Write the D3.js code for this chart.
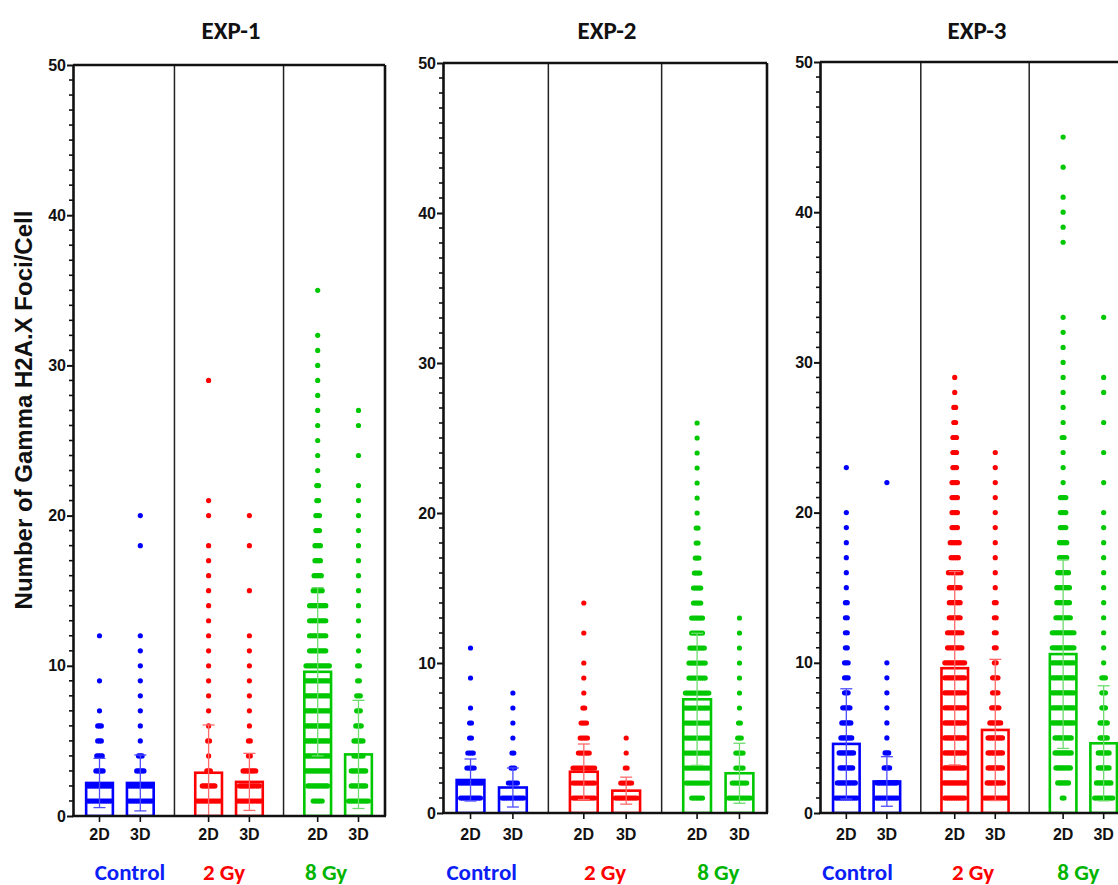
<!DOCTYPE html>
<html><head><meta charset="utf-8">
<script src="https://cdn.jsdelivr.net/npm/d3@7"></script>
<style>body{margin:0;background:#fff}</style>
</head><body>
<svg id="chart" width="1118" height="885"></svg>
<script>
// ---------------- DATA ----------------
const experiments = ["EXP-1", "EXP-2", "EXP-3"];
const treatments = ["Control", "2 Gy", "8 Gy"];
const cultures = ["2D", "3D"];
const yTickValues = [0, 10, 20, 30, 40, 50];
const yLabel = "Number of Gamma H2A.X Foci/Cell";

// column order: Control-2D, Control-3D, 2Gy-2D, 2Gy-3D, 8Gy-2D, 8Gy-3D
const exp1Means = [2.2, 2.2, 2.88, 2.27, 9.6, 4.1];
const exp1SD    = [1.64, 1.86, 3.18, 1.9, 5.6, 3.6];
const exp2Means = [2.2, 1.7, 2.75, 1.49, 7.58, 2.65];
const exp2SD    = [1.4, 1.3, 1.85, 0.9, 4.4, 2.0];
const exp3Means = [4.6, 2.1, 9.64, 5.53, 10.58, 4.64];
const exp3SD    = [3.67, 1.65, 6.44, 4.7, 6.28, 3.83];

// individual cells: [foci value, number of cells]
const exp1Control2D = [[1,14],[2,14],[3,5],[4,4],[5,3],[6,3],[7,1],[9,1],[12,1]];
const exp1Control3D = [[1,14],[2,14],[3,5],[4,3],[5,1],[6,1],[7,1],[8,1],[9,1],[10,1],[11,1],[12,1],[18,1],[20,1]];
const exp1Gy2_2D = [[1,14],[2,8],[3,3],[4,1],[5,2],[6,1],[7,1],[8,1],[9,1],[10,1],[11,1],[12,1],[13,1],[14,1],[15,1],[16,1],[17,1],[18,1],[20,1],[21,1],[29,1]];
const exp1Gy2_3D = [[1,14],[2,12],[3,8],[4,2],[5,2],[6,1],[7,1],[8,1],[9,1],[10,1],[11,1],[12,1],[15,1],[18,1],[20,1]];
const exp1Gy8_2D = [[1,6],[2,12],[3,14],[4,14],[5,14],[6,14],[7,14],[8,14],[9,14],[10,14],[11,10],[12,10],[13,10],[14,10],[15,6],[16,5],[17,4],[18,4],[19,3],[20,3],[21,2],[22,2],[23,1],[24,1],[25,1],[26,1],[27,1],[28,1],[29,1],[30,1],[31,1],[32,1],[35,1]];
const exp1Gy8_3D = [[1,12],[2,9],[3,9],[4,6],[5,6],[6,4],[7,3],[8,3],[9,2],[10,2],[11,1],[12,1],[13,1],[14,1],[15,1],[16,1],[17,1],[18,1],[19,1],[20,1],[21,1],[22,1],[24,1],[26,1],[27,1]];

const exp2Control2D = [[1,12],[2,14],[3,5],[4,4],[5,2],[6,2],[7,1],[9,1],[11,1]];
const exp2Control3D = [[1,13],[2,6],[3,3],[4,2],[5,1],[6,1],[7,1],[8,1]];
const exp2Gy2_2D = [[1,13],[2,13],[3,13],[4,7],[5,5],[6,4],[7,2],[8,1],[9,1],[10,1],[12,1],[14,1]];
const exp2Gy2_3D = [[1,13],[2,7],[3,2],[4,1],[5,1]];
const exp2Gy8_2D = [[1,7],[2,13],[3,14],[4,14],[5,14],[6,14],[7,14],[8,14],[9,10],[10,10],[11,9],[12,7],[13,7],[14,5],[15,5],[16,4],[17,3],[18,2],[19,2],[20,1],[21,1],[22,1],[23,1],[24,1],[25,1],[26,1]];
const exp2Gy8_3D = [[1,13],[2,9],[3,5],[4,5],[5,3],[6,2],[7,1],[8,1],[9,1],[10,1],[11,1],[12,1],[13,1]];

const exp3Control2D = [[1,13],[2,11],[3,8],[4,9],[5,7],[6,6],[7,5],[8,3],[9,3],[10,3],[11,2],[12,2],[13,2],[14,2],[15,1],[16,1],[17,1],[18,1],[19,1],[20,1],[23,1]];
const exp3Control3D = [[1,13],[2,12],[3,4],[4,3],[5,1],[6,1],[7,1],[8,1],[9,1],[10,1],[22,1]];
const exp3Gy2_2D = [[1,12],[2,13],[3,12],[4,12],[5,12],[6,12],[7,12],[8,12],[9,12],[10,12],[11,9],[12,9],[13,7],[14,7],[15,7],[16,8],[17,5],[18,6],[19,4],[20,4],[21,4],[22,4],[23,3],[24,3],[25,3],[26,2],[27,2],[28,1],[29,1]];
const exp3Gy2_3D = [[1,13],[2,10],[3,9],[4,9],[5,9],[6,7],[7,5],[8,4],[9,4],[10,2],[11,2],[12,2],[13,2],[14,2],[15,1],[16,1],[17,1],[18,1],[19,1],[20,1],[21,1],[22,1],[23,1],[24,1]];
const exp3Gy8_2D = [[1,2],[2,7],[3,9],[4,10],[5,10],[6,13],[7,13],[8,13],[9,13],[10,13],[11,13],[12,13],[13,9],[14,8],[15,8],[16,7],[17,5],[18,5],[19,4],[20,4],[21,4],[22,1],[23,1],[24,1],[25,2],[26,1],[27,1],[28,1],[29,1],[30,1],[31,1],[32,1],[33,1],[38,1],[39,1],[40,1],[41,1],[43,1],[45,1]];
const exp3Gy8_3D = [[1,11],[2,9],[3,7],[4,7],[5,5],[6,5],[7,3],[8,3],[9,3],[10,1],[11,1],[12,1],[13,1],[14,1],[15,1],[16,1],[17,1],[18,1],[19,1],[20,1],[22,1],[24,1],[26,1],[28,1],[29,1],[33,1]];

// ---------------- STYLE / LAYOUT ----------------
const treatmentColors = ["#0000ff", "#ff0000", "#00c800"];
const whiskerColors = ["#4d4dff", "#ff6a6a", "#6ddc6d"];
const labelColors = ["#0a1ef5", "#ff0000", "#00b400"];

const panels = [
  {x: 73, w: 312, top: 65, bottom: 816, labelShift: [10, -5, -12]},
  {x: 443, w: 324, top: 63, bottom: 813, labelShift: [-10, 0, 0]},
  {x: 820, w: 310, top: 62, bottom: 813, labelShift: [-9, -2, -5]}
];
const panelMeans = [exp1Means, exp2Means, exp3Means];
const panelSD = [exp1SD, exp2SD, exp3SD];
const panelDots = [
  [exp1Control2D, exp1Control3D, exp1Gy2_2D, exp1Gy2_3D, exp1Gy8_2D, exp1Gy8_3D],
  [exp2Control2D, exp2Control3D, exp2Gy2_2D, exp2Gy2_3D, exp2Gy8_2D, exp2Gy8_3D],
  [exp3Control2D, exp3Control3D, exp3Gy2_2D, exp3Gy2_3D, exp3Gy8_2D, exp3Gy8_3D]
];

const svg = d3.select("#chart");
const arial = "'Liberation Sans', Arial, sans-serif";
const calibri = "Carlito, 'Liberation Sans Narrow', 'Open Sans', sans-serif";

// y-axis title
svg.append("text")
  .attr("transform", "translate(23,410) rotate(-90)")
  .attr("text-anchor", "middle").attr("dominant-baseline", "central")
  .style("font-family", arial).style("font-weight", "bold").style("font-size", "24px")
  .attr("fill", "#111")
  .text(yLabel);

panels.forEach((p, pi) => {
  const g = svg.append("g").attr("transform", `translate(${p.x},0)`);
  const y = d3.scaleLinear().domain([0, 50]).range([p.bottom, p.top]);
  const gx = d3.scalePoint().domain(treatments).range([0, p.w]).padding(0.43);
  const step = gx.step();
  const inner = d3.scalePoint().domain(cultures).range([-step * 0.187, step * 0.187]);
  const bw = step * 0.245;

  // title
  g.append("text").attr("x", p.w / 2 + 2).attr("y", 30)
    .attr("text-anchor", "middle").attr("dominant-baseline", "central")
    .style("font-family", calibri).style("font-weight", "bold").style("font-size", "25px")
    .attr("fill", "#111")
    .text(experiments[pi]);

  // group dividers
  for (let k = 0; k < treatments.length - 1; k++) {
    const xd = (gx(treatments[k]) + gx(treatments[k + 1])) / 2;
    g.append("line").attr("x1", xd).attr("x2", xd).attr("y1", p.top).attr("y2", p.bottom)
      .attr("stroke", "#222").attr("stroke-width", 1.5);
  }

  const cols = [];
  treatments.forEach((t, ti) => cultures.forEach((c, ci) => {
    cols.push({t, ti, c, cx: gx(t) + inner(c), idx: ti * 2 + ci});
  }));

  const clip = "clip" + pi;
  g.append("clipPath").attr("id", clip).append("rect")
    .attr("x", 0).attr("y", p.top).attr("width", p.w).attr("height", p.bottom - p.top);
  const plot = g.append("g").attr("clip-path", `url(#${clip})`);

  cols.forEach(col => {
    const mean = panelMeans[pi][col.idx];
    const sd = panelSD[pi][col.idx];
    const color = treatmentColors[col.ti];
    // bar
    plot.append("rect")
      .attr("x", col.cx - bw / 2).attr("y", y(mean))
      .attr("width", bw).attr("height", y(0) - y(mean))
      .attr("fill", "none").attr("stroke", color).attr("stroke-width", 2.6);
    // dots
    const pts = [];
    panelDots[pi][col.idx].forEach(([v, n]) => {
      const sp = 1.8;
      for (let i = 0; i < n; i++) pts.push({v, off: (i - (n - 1) / 2) * sp});
    });
    plot.selectAll(null).data(pts).enter().append("circle")
      .attr("cx", d => col.cx + d.off).attr("cy", d => y(d.v)).attr("r", 2.6)
      .attr("fill", color);
    // error bar
    const lo = Math.max(0, mean - sd), hi = mean + sd;
    const wc = whiskerColors[col.ti];
    plot.append("line").attr("x1", col.cx).attr("x2", col.cx).attr("y1", y(lo)).attr("y2", y(hi))
      .attr("stroke", wc).attr("stroke-width", 1.3);
    [hi, mean - sd].forEach(v => {
      if (v <= 0) return;
      plot.append("line").attr("x1", col.cx - 6).attr("x2", col.cx + 6).attr("y1", y(v)).attr("y2", y(v))
        .attr("stroke", wc).attr("stroke-width", 1.3);
    });
  });

  // frame: top and right
  g.append("line").attr("x1", 0).attr("x2", p.w).attr("y1", p.top).attr("y2", p.top)
    .attr("stroke", "#111").attr("stroke-width", 2.6);
  g.append("line").attr("x1", p.w).attr("x2", p.w).attr("y1", p.top).attr("y2", p.bottom)
    .attr("stroke", "#111").attr("stroke-width", 2.6);

  // y axis
  const yAxis = g.append("g").call(d3.axisLeft(y).tickValues(yTickValues).tickSize(6).tickSizeOuter(0));
  yAxis.attr("font-size", null).attr("font-family", null);
  yAxis.select(".domain").attr("stroke", "#111").attr("stroke-width", 2.6);
  yAxis.selectAll(".tick line").attr("stroke", "#111").attr("stroke-width", 2);
  yAxis.selectAll(".tick text").attr("x", -7)
    .attr("font-family", arial).attr("font-weight", "bold").attr("font-size", "16px")
    .style("font-size", "16px").attr("fill", "#111");
  // minor ticks
  g.append("g").selectAll("line").data(d3.range(0, 51).filter(v => v % 10 !== 0)).enter().append("line")
    .attr("x1", -4).attr("x2", 0).attr("y1", d => y(d)).attr("y2", d => y(d))
    .attr("stroke", "#111").attr("stroke-width", 1.6);

  // x axis line and ticks
  g.append("line").attr("x1", -1).attr("x2", p.w + 1).attr("y1", p.bottom).attr("y2", p.bottom)
    .attr("stroke", "#111").attr("stroke-width", 2.6);
  cols.forEach(col => {
    g.append("line").attr("x1", col.cx).attr("x2", col.cx).attr("y1", p.bottom).attr("y2", p.bottom + 6)
      .attr("stroke", "#111").attr("stroke-width", 1.6);
    g.append("text").attr("x", col.cx).attr("y", 834)
      .attr("text-anchor", "middle").attr("dominant-baseline", "central")
      .style("font-family", arial).style("font-weight", "bold").style("font-size", "16px").attr("fill", "#111")
      .text(col.c);
  });
  treatments.forEach((t, ti) => {
    g.append("text").attr("x", gx(t) + p.labelShift[ti]).attr("y", 872)
      .attr("text-anchor", "middle").attr("dominant-baseline", "central")
      .style("font-family", calibri).style("font-weight", "bold").style("font-size", "23px")
      .attr("fill", labelColors[ti]).text(t);
  });
});
</script>
</body></html>
